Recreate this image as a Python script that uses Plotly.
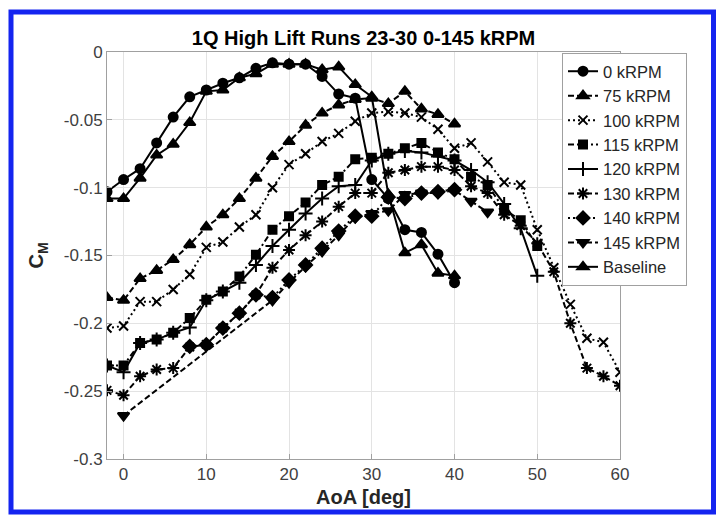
import plotly.graph_objects as go

# ---------------- data ----------------
aoa_to40 = [-2, 0, 2, 4, 6, 8, 10, 12, 14, 16, 18, 20, 22, 24, 26, 28, 30, 32, 34, 36, 38, 40]
aoa_to50 = aoa_to40 + [42, 44, 46, 48, 50]
aoa_to60 = aoa_to50 + [52, 54, 56, 58, 60]
aoa_140 = [8, 10, 12, 14, 16, 18, 20, 22, 24, 26, 28, 30, 32, 34, 36, 38, 40]
aoa_145 = [0, 18, 20, 22, 24, 26, 28, 30, 32, 34, 36, 38, 40, 42, 44]

cm_0 = [-0.103, -0.094, -0.086, -0.067, -0.048, -0.033, -0.028, -0.023, -0.019, -0.012, -0.008,
        -0.009, -0.009, -0.018, -0.031, -0.034, -0.094, -0.108, -0.131, -0.133, -0.149, -0.170]
cm_75 = [-0.181, -0.183, -0.167, -0.161, -0.153, -0.142, -0.129, -0.120, -0.108, -0.093, -0.077,
         -0.066, -0.054, -0.045, -0.039, -0.035, -0.034, -0.038, -0.029, -0.042, -0.046, -0.053]
cm_100 = [-0.2035, -0.202, -0.184, -0.184, -0.175, -0.164, -0.144, -0.140, -0.129, -0.120, -0.100,
          -0.083, -0.075, -0.066, -0.060, -0.051, -0.045, -0.044, -0.045, -0.048, -0.057, -0.071,
          -0.067, -0.081, -0.096, -0.098, -0.131, -0.159, -0.186, -0.211, -0.214, -0.236]
cm_115 = [-0.231, -0.231, -0.2145, -0.212, -0.207, -0.196, -0.1826, -0.1765, -0.1654, -0.1495, -0.131,
          -0.121, -0.111, -0.098, -0.092, -0.079, -0.078, -0.075, -0.071, -0.067, -0.074, -0.079,
          -0.092, -0.098, -0.116, -0.124, -0.143]
cm_120 = [-0.231, -0.236, -0.2145, -0.212, -0.207, -0.203, -0.183, -0.1765, -0.170, -0.157, -0.143,
          -0.131, -0.119, -0.108, -0.099, -0.098, -0.080, -0.075, -0.073, -0.074, -0.077, -0.080,
          -0.087, -0.096, -0.112, -0.130, -0.165]
cm_130 = [-0.2494, -0.253, -0.239, -0.234, -0.233, -0.2175, -0.2155, -0.2035, -0.1925, -0.179, -0.159,
          -0.146, -0.135, -0.125, -0.114, -0.104, -0.104, -0.089, -0.087, -0.0845, -0.0845, -0.087,
          -0.099, -0.104, -0.120, -0.128, -0.141, -0.162, -0.200, -0.233, -0.239, -0.246]
cm_140 = [-0.217, -0.2157, -0.2035, -0.1925, -0.179, -0.181, -0.168, -0.157, -0.1446, -0.132, -0.121,
          -0.121, -0.107, -0.108, -0.104, -0.103, -0.1015]
cm_145 = [-0.268, -0.183, -0.170, -0.158, -0.147, -0.135, -0.122, -0.119, -0.117, -0.105, -0.104,
          -0.104, -0.102, -0.110, -0.118]
cm_base = [-0.108, -0.108, -0.093, -0.076, -0.068, -0.052, -0.029, -0.028, -0.019, -0.016, -0.009,
           -0.009, -0.009, -0.013, -0.011, -0.024, -0.033, -0.105, -0.148, -0.142, -0.163, -0.165]

series_names = ["0 kRPM", "75 kRPM", "100 kRPM", "115 kRPM", "120 kRPM",
                "130 kRPM", "140 kRPM", "145 kRPM", "Baseline"]
series_x = [aoa_to40, aoa_to40, aoa_to60, aoa_to50, aoa_to50, aoa_to60, aoa_140, aoa_145, aoa_to40]
series_y = [cm_0, cm_75, cm_100, cm_115, cm_120, cm_130, cm_140, cm_145, cm_base]

x_ticks = [0, 10, 20, 30, 40, 50, 60]
y_ticks = [-0.3, -0.25, -0.2, -0.15, -0.1, -0.05, 0]
y_ticktext = ["-0.3", "-0.25", "-0.2", "-0.15", "-0.1", "-0.05", "0"]

# ---------------- styles ----------------
DASH = "6px,3px"
DOT = "2px,3px"
DASHDOT = "6px,3px,2px,3px"
styles = [
    ("circle", "solid", 9),
    ("triangle-up", DASH, 10),
    ("x-thin", DOT, 9),
    ("square", DASHDOT, 8),
    ("cross-thin", "solid", 10),
    ("asterisk", DASH, 10),
    ("diamond", DOT, 10),
    ("triangle-down", DASH, 10),
    ("triangle-up", "solid", 10),
]

fig = go.Figure()
for name, xs, ys, (sym, dash, msize) in zip(series_names, series_x, series_y, styles):
    fig.add_trace(go.Scatter(
        x=xs, y=ys, name=name, mode="lines+markers",
        line=dict(color="black", width=2, dash=dash),
        marker=dict(symbol=sym, size=msize, color="black",
                    line=dict(color="black", width=2)),
    ))

# plot area in pixels: x 107..620, y 52..459
L, R, T, B = 107, 620, 52, 459
W, H = 722, 518

def px_x(X):
    return (X - L) / (R - L)

def px_y(Y):
    return (B - Y) / (B - T)

fig.update_layout(
    width=W, height=H,
    margin=dict(l=L, r=W - R, t=T, b=H - B),
    paper_bgcolor="white", plot_bgcolor="white",
    font=dict(family="Liberation Sans, Arial, sans-serif", color="#262626"),
    title=dict(text="<b>1Q High Lift Runs 23-30 0-145 kRPM</b>",
               x=(L + R) / 2 / W, xanchor="center", xref="container",
               y=1 - 38 / H, yanchor="middle", yref="container",
               font=dict(size=20, color="black")),
    showlegend=True,
    legend=dict(x=px_x(562), y=px_y(53), xanchor="left", yanchor="top",
                bgcolor="white", bordercolor="#a0a0a0", borderwidth=1,
                font=dict(size=16.5, color="#262626"),
                tracegroupgap=0, itemwidth=30),
    xaxis=dict(range=[-2, 60], tickvals=x_ticks, showgrid=True, gridcolor="#e3e3e3",
               gridwidth=1, zeroline=False, showline=True, linecolor="#a0a0a0", linewidth=1,
               mirror=True, ticks="inside", ticklen=5, tickcolor="#a0a0a0",
               tickfont=dict(size=17, color="#404040"),
               title=dict(text="<b>AoA [deg]</b>", font=dict(size=20, color="#262626"), standoff=6),
               automargin=False),
    yaxis=dict(range=[-0.3, 0], tickvals=y_ticks, ticktext=y_ticktext, showgrid=True,
               gridcolor="#e3e3e3", gridwidth=1, zeroline=False, showline=True,
               linecolor="#a0a0a0", linewidth=1, mirror=True, ticks="inside", ticklen=5,
               tickcolor="#a0a0a0", tickfont=dict(size=17, color="#404040"),
               title=dict(text="<b>C<sub>M</sub></b>", font=dict(size=20, color="#262626"), standoff=14),
               automargin=False),
    shapes=[dict(type="rect", xref="paper", yref="paper",
                 x0=px_x(11), x1=px_x(713.5), y0=px_y(512), y1=px_y(12),
                 line=dict(color="#1424f0", width=5), fillcolor="rgba(0,0,0,0)", layer="above")],
)

fig.write_html("out.html")
